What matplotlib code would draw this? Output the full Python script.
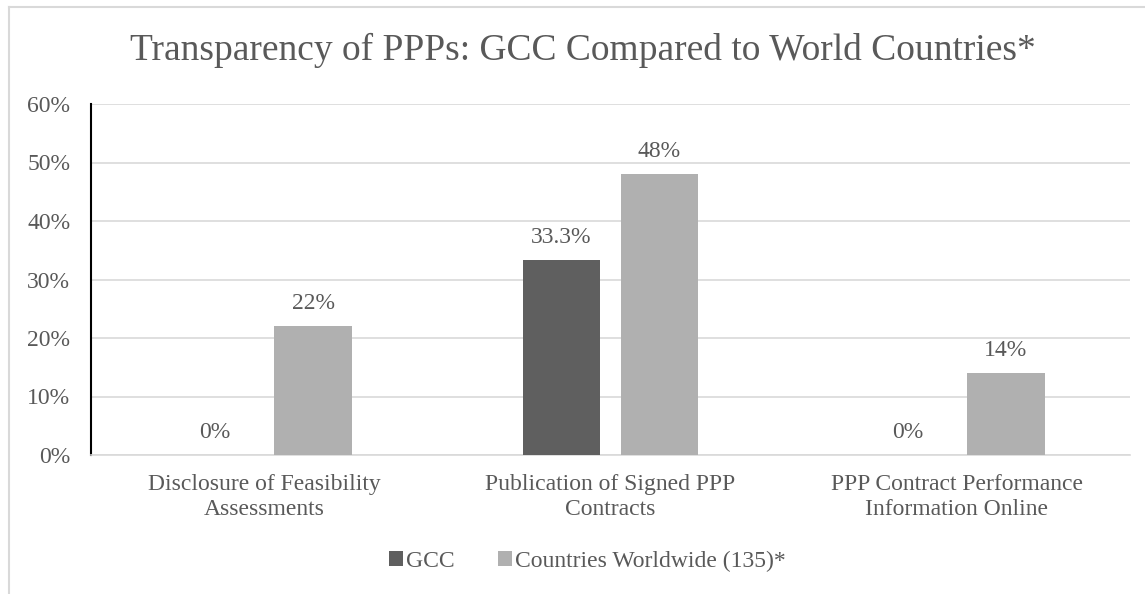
import matplotlib
matplotlib.use("Agg")
import matplotlib.pyplot as plt
import numpy as np

CATEGORIES = ["Disclosure of Feasibility\nAssessments",
              "Publication of Signed PPP\nContracts",
              "PPP Contract Performance\nInformation Online"]
GCC = [0, 33.3, 0]
WORLD = [22, 48, 14]
GCC_LABELS = ["0%", "33.3%", "0%"]
WORLD_LABELS = ["22%", "48%", "14%"]
SERIES = ["GCC", "Countries Worldwide (135)*"]
TITLE = "Transparency of PPPs: GCC Compared to World Countries*"

TXT = "#595959"
FS = 17
plt.rcParams["font.family"] = ["Liberation Serif", "DejaVu Serif"]

fig = plt.figure(figsize=(11.45, 5.94), dpi=100)
ax = fig.add_axes([91 / 1145, 1 - 455 / 594, (1130 - 91) / 1145, (455 - 104) / 594])

x = np.arange(len(CATEGORIES))
w = 0.225
off = 0.1415
b1 = ax.bar(x - off, GCC, w, color="#5f5f5f", label=SERIES[0], zorder=3)
b2 = ax.bar(x + off, WORLD, w, color="#b0b0b0", label=SERIES[1], zorder=3)

for bars, labels in ((b1, GCC_LABELS), (b2, WORLD_LABELS)):
    for rect, lab in zip(bars, labels):
        ax.annotate(lab, (rect.get_x() + rect.get_width() / 2, rect.get_height()),
                    xytext=(0, 9), textcoords="offset points", ha="center",
                    va="bottom", fontsize=FS, color=TXT)

ax.set_xlim(-0.5, 2.5)
ax.set_ylim(0, 60)
ax.set_yticks(range(0, 61, 10))
ax.set_yticklabels([f"{v}%" for v in range(0, 61, 10)], fontsize=FS, color=TXT)
ax.set_xticks(x)
ax.set_xticklabels(CATEGORIES, fontsize=FS, color=TXT, linespacing=1.23)
ax.tick_params(axis="x", length=0, pad=14)
ax.tick_params(axis="y", length=0, pad=15)
ax.grid(axis="y", color="#d9d9d9", linewidth=1.2, zorder=0)
for s in ["top", "right"]:
    ax.spines[s].set_visible(False)
ax.spines["bottom"].set_color("#d9d9d9")
ax.spines["bottom"].set_linewidth(1.2)
ax.spines["left"].set_color("black")
ax.spines["left"].set_linewidth(1.5)

fig.text(0.509, 1 - 50 / 594, TITLE, ha="center", va="center", fontsize=27, color=TXT)

fig.legend(handles=[b1, b2], loc="center", bbox_to_anchor=(0.513, 1 - 561 / 594),
           ncol=2, frameon=False, fontsize=FS, labelcolor=TXT,
           handlelength=0.6, handleheight=0.6, handletextpad=0.15, columnspacing=1.8)

# chart frame (left and top edges only visible in the crop)
fig.add_artist(plt.Line2D([9 / 1145, 9 / 1145], [0, 1 - 7 / 594], color="#d9d9d9", lw=1.5))
fig.add_artist(plt.Line2D([9 / 1145, 1], [1 - 7 / 594, 1 - 7 / 594], color="#d9d9d9", lw=1.5))

fig.savefig("out.png", dpi=100)
